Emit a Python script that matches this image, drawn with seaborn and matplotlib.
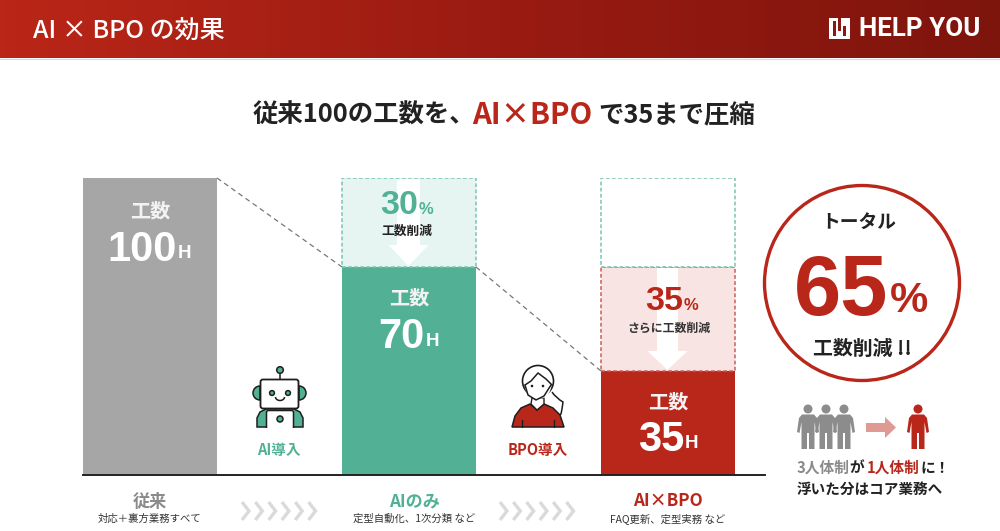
import numpy as np
import pandas as pd
import matplotlib
matplotlib.use("Agg")
import matplotlib.pyplot as plt
from matplotlib.patches import Circle, Polygon, FancyBboxPatch, Wedge, Arc, Rectangle
from matplotlib.path import Path
from matplotlib.patches import PathPatch
from matplotlib.colors import LinearSegmentedColormap
import seaborn as sns

categories = ["従来", "AIのみ", "AI×BPO"]
hours = [100, 70, 35]
bar_colors = ["#A6A6A6", "#52B095", "#B9261A"]
hour_labels = ["100", "70", "35"]
sublabels = ["対応＋裏方業務すべて", "定型自動化、1次分類 など", "FAQ更新、定型実務 など"]
ghost_categories = ["AIのみ", "AI×BPO", "AI×BPO"]
ghost_bases = [70, 35, 70]
ghost_heights = [30, 35, 30]
ghost_fills = ["#E6F5F1", "#F7E4E3", "#FFFFFF"]
ghost_edges = ["#7CC4AF", "#C9605A", "#7CC4AF"]

sns.set_theme(style="white")
FONT = ["Liberation Sans", "Noto Sans CJK JP", "DejaVu Sans"]
JP = ["Noto Sans CJK JP", "DejaVu Sans"]
plt.rcParams["font.family"] = FONT

W, H = 1000, 531
fig = plt.figure(figsize=(W / 100, H / 100), dpi=100, facecolor="white")

# Bar axes: value 0..100 maps to pixel rows 475..178
x_left, x_right = 83, 765
ax = fig.add_axes([x_left / W, (H - 475) / H, (x_right - x_left) / W, (475 - 178) / H])
frame = pd.DataFrame({"cat": categories, "hours": hours})
sns.barplot(data=frame, x="cat", y="hours", hue="cat", order=categories, hue_order=categories,
            palette=bar_colors, saturation=1, width=134 / 259, dodge=False, legend=False,
            linewidth=0, ax=ax)
for c, b, h, f, e in zip(ghost_categories, ghost_bases, ghost_heights, ghost_fills, ghost_edges):
    sub = pd.DataFrame({"cat": [c], "h": [h]})
    sub["cat"] = pd.Categorical(sub["cat"], categories=categories)
    sns.barplot(data=sub, x="cat", y="h", order=categories, color=f, saturation=1,
                width=134 / 259, bottom=b, edgecolor=e, linewidth=1.1, linestyle=(0, (2.5, 1.5)), ax=ax)
ax.set_xlim((x_left - 150) / 259, (x_right - 150) / 259)
ax.set_ylim(0, 100)
ax.set_xlabel("")
ax.set_ylabel("")
ax.set_xticks([])
ax.set_yticks([])
for s in ["top", "left", "right"]:
    ax.spines[s].set_visible(False)
ax.spines["bottom"].set_color("#222222")
ax.spines["bottom"].set_linewidth(1.4)
ax.patch.set_alpha(0)

# Overlay in pixel coordinates for the slide furniture
ov = fig.add_axes([0, 0, 1, 1], zorder=5)
ov.set_xlim(0, W)
ov.set_ylim(H, 0)
ov.axis("off")
ov.patch.set_alpha(0)

cmap = LinearSegmentedColormap.from_list("hdr", ["#BA2618", "#9A1B12", "#7E150D"])
ov.imshow(np.linspace(0, 1, 256)[None, :], extent=(0, W, 58, 0), cmap=cmap, aspect="auto", zorder=1)
ov.set_xlim(0, W)
ov.set_ylim(H, 0)
ov.plot([0, W], [58.5, 58.5], color="#E8D5D3", lw=0.8, zorder=1)

def T(x, y, s, size, color="#222222", weight="bold", ha="center", family=FONT, z=6):
    return ov.text(x, y, s, fontsize=size, color=color, fontweight=weight, ha=ha, va="center",
                   family=family, zorder=z)

RED, GREEN, GRAY, DARK = "#B9261A", "#52B095", "#8A8A8A", "#222222"

T(33, 30.5, "AI × BPO の効果", 18, "white", "medium", ha="left", family=["Noto Sans CJK JP"])
T(859, 29.5, "HELP YOU", 18.6, "white", "bold", ha="left", family=["Roboto", "Liberation Sans"])
ov.add_patch(Rectangle((829, 18), 21, 21, fc="white", ec="none", zorder=6))
for px, py, pw, ph in [(833, 21, 3, 15), (838, 18, 3, 13), (843, 26, 3, 10)]:
    ov.add_patch(Rectangle((px, py), pw, ph, fc="#8A1A11", ec="none", zorder=7))

# Headline
T(253, 115.5, "従来100の工数を、", 18.3, DARK, ha="left", family=JP)
T(472, 114.5, "AI×BPO", 21.2, RED, ha="left", family=JP)
T(598.5, 115.5, "で35まで圧縮", 18.3, DARK, ha="left", family=JP)

# Dashed connectors
ov.plot([217, 342], [178, 267], color="#777777", lw=0.9, ls=(0, (4, 3)), zorder=3)
ov.plot([476, 601], [267, 371], color="#777777", lw=0.9, ls=(0, (4, 3)), zorder=3)

# White down arrows
def down_arrow(cx, top, sw, neck, tip, hw, z=3):
    ov.add_patch(Polygon([(cx - sw, top), (cx + sw, top), (cx + sw, neck), (cx + hw, neck), (cx, tip),
                          (cx - hw, neck), (cx - sw, neck)], fc="white", ec="none", zorder=z))
down_arrow(408.5, 179, 11.5, 245, 266, 20)
down_arrow(667.5, 268, 10.5, 351, 370, 20)

# Bar texts
num_right = [177, 425, 684]
ky = [211, 298, 402]
vy = [250, 337, 440]
for i, cx in enumerate([150, 409, 668]):
    T(cx, ky[i], "工数", 14.5, "#F3F3F3", family=JP)
    T(num_right[i], vy[i], hour_labels[i], 30, "white", ha="right")
    T(num_right[i] + 1, vy[i] + 4, "H", 13.5, "white", ha="left")

T(418, 205, "30", 24.5, GREEN, ha="right")
T(419, 209, "%", 12, GREEN, ha="left")
T(407, 231, "工数削減", 9.2, DARK, family=JP)
T(683, 302, "35", 24.5, RED, ha="right")
T(684, 306, "%", 12, RED, ha="left")
T(669, 328, "さらに工数削減", 8.6, "#333333", family=JP)

# Robot
def robot():
    z = 6
    k = "#1E1E1E"
    ov.plot([280, 280], [373, 379], color=k, lw=1.1, zorder=z)
    ov.add_patch(Circle((280, 370), 3.3, fc=GREEN, ec=k, lw=1.1, zorder=z))
    ov.add_patch(Wedge((260, 393), 7, 90, 270, fc=GREEN, ec=k, lw=1.1, zorder=z))
    ov.add_patch(Wedge((299, 393), 7, 270, 90, fc=GREEN, ec=k, lw=1.1, zorder=z))
    ov.add_patch(FancyBboxPatch((262, 381), 35, 26, boxstyle="round,pad=1.5,rounding_size=2.5",
                                fc="white", ec=k, lw=1.3, zorder=z))
    ov.add_patch(Circle((272, 393), 2.4, fc=GREEN, ec=k, lw=1.1, zorder=z))
    ov.add_patch(Circle((288, 393), 2.4, fc=GREEN, ec=k, lw=1.1, zorder=z))
    ov.add_patch(Arc((280, 397), 9, 7, theta1=0, theta2=180, ec=k, lw=1.1, zorder=z))
    ov.add_patch(Polygon([(257, 427), (257, 418), (260, 412), (266, 409), (294, 409), (300, 412), (303, 418), (303, 427)],
                         fc=GREEN, ec=k, lw=1.1, zorder=z))
    ov.add_patch(FancyBboxPatch((267, 411), 26, 18, boxstyle="round,pad=0.5,rounding_size=2",
                                fc="white", ec=k, lw=1.1, zorder=z))
    ov.add_patch(Rectangle((250, 427.5), 60, 6, fc="white", ec="none", zorder=z + 0.5))
    ov.add_patch(Circle((280, 419), 3, fc=GREEN, ec=k, lw=1.1, zorder=z))
robot()
T(279, 450.5, "AI導入", 10.5, GREEN, family=JP)

def woman():
    z = 6
    k = "#1E1E1E"
    # ponytail
    tail = Path([(552, 392), (556, 398), (563, 402), (562, 410), (561, 414), (558, 416), (556, 417)],
                [Path.MOVETO, Path.CURVE3, Path.CURVE3, Path.CURVE3, Path.CURVE3, Path.CURVE3, Path.CURVE3])
    ov.add_patch(PathPatch(tail, fc="white", ec=k, lw=1.1, zorder=z))
    # body
    ov.add_patch(Polygon([(512, 427), (515, 416), (521, 408), (530, 404), (537, 410), (544, 404), (553, 408), (560, 415), (564, 427)],
                         fc=RED, ec=k, lw=1.1, zorder=z))
    ov.plot([522, 522], [420, 427], color=k, lw=1.0, zorder=z + 1)
    ov.plot([554, 554], [420, 427], color=k, lw=1.0, zorder=z + 1)
    # neck
    ov.add_patch(Polygon([(532, 398), (544, 398), (544, 404), (537, 410), (531, 404)], fc="white", ec=k, lw=1.0, zorder=z + 1))
    # head and hair
    ov.add_patch(Circle((538, 381), 15.5, fc="white", ec=k, lw=1.2, zorder=z + 2))
    ov.add_patch(Circle((538, 386), 13, fc="white", ec="none", zorder=z + 2))
    ov.plot([525, 531, 538, 546, 552], [385, 381, 373, 379, 385], color=k, lw=1.1, zorder=z + 3)
    ov.plot([525, 528, 536, 544, 551], [385, 395, 400, 396, 385], color=k, lw=1.1, zorder=z + 3)
    ov.add_patch(Circle((532, 386), 1.3, fc=k, ec="none", zorder=z + 3))
    ov.add_patch(Circle((543, 386), 1.3, fc=k, ec="none", zorder=z + 3))
woman()
T(538, 450.5, "BPO導入", 10.5, RED, family=JP)

# Category labels
name_colors = ["#8A8A8A", GREEN, RED]
name_x = [150, 414.5, 667.5]
for i in range(3):
    T(name_x[i], 501.5, categories[i], 12.3, name_colors[i], family=JP)
    T(name_x[i], 519, sublabels[i], 7.45, "#333333", "regular", family=JP)

# Chevrons
for start in (242, 500):
    for j in range(6):
        x0 = start + j * 13.3
        ov.plot([x0, x0 + 7, x0], [502, 511, 520], color="#DADADA", lw=2.4, zorder=3,
                solid_joinstyle="miter", solid_capstyle="butt")

# Total circle
ov.add_patch(Circle((862, 283), 97.5, fc="white", ec=RED, lw=2.4, zorder=4))
T(858.5, 222.5, "トータル", 13.5, DARK, family=JP)
T(888, 293, "65", 61, RED, ha="right")
T(890, 301, "%", 31, RED, ha="left")
T(862, 348, "工数削減 !!", 14.3, DARK, family=JP)

# People
def person(cx, color):
    z = 6
    ov.add_patch(Circle((cx, 409), 4.5, fc=color, ec="none", zorder=z))
    pts = [(cx - 6, 414.5), (cx + 6, 414.5), (cx + 9, 418), (cx + 11, 432), (cx + 8.5, 433), (cx + 6.5, 422),
           (cx + 6.5, 449), (cx + 1, 449), (cx + 1, 433), (cx - 1, 433), (cx - 1, 449), (cx - 6.5, 449),
           (cx - 6.5, 422), (cx - 8.5, 433), (cx - 11, 432), (cx - 9, 418)]
    ov.add_patch(Polygon(pts, fc=color, ec="none", zorder=z))
for px in (808, 826, 844):
    person(px, "#8C8C8C")
person(918, RED)
ov.add_patch(Polygon([(866, 423), (885, 423), (885, 417), (896, 427.5), (885, 438), (885, 432), (866, 432)],
                     fc="#E09A94", ec="none", zorder=6))

T(797, 467.5, "3人体制", 10.6, "#8A8A8A", ha="left", family=JP)
T(849, 467.5, "が", 10.6, DARK, ha="left", family=JP)
T(867, 467.5, "1人体制", 10.6, RED, ha="left", family=JP)
T(920, 467.5, "に！", 10.6, DARK, ha="left", family=JP)
T(797, 488.5, "浮いた分はコア業務へ", 10.5, DARK, ha="left", family=JP)

fig.savefig("out.png", dpi=100)
